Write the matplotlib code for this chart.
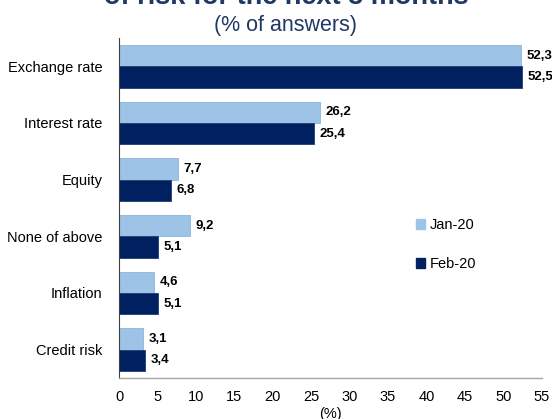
import matplotlib
matplotlib.use("Agg")
import matplotlib.pyplot as plt
from matplotlib.patches import Patch
import numpy as np

plt.rcParams['font.family'] = ['Liberation Sans', 'DejaVu Sans']

categories = ["Exchange rate", "Interest rate", "Equity", "None of above", "Inflation", "Credit risk"]
jan_20 = [52.3, 26.2, 7.7, 9.2, 4.6, 3.1]
feb_20 = [52.5, 25.4, 6.8, 5.1, 5.1, 3.4]
series_names = ["Jan-20", "Feb-20"]
x_ticks = list(range(0, 60, 5))

jan_color = "#9DC3E6"
feb_color = "#002060"
title_color = "#1F3864"

fig = plt.figure(figsize=(5.52, 4.19), dpi=100)
ax = fig.add_axes([0.2156, 0.0979, 0.7657, 0.8114])

y = np.arange(len(categories))
h = 0.375
ax.barh(y - h / 2, jan_20, height=h, color=jan_color, edgecolor="#8DB4DC", linewidth=0.6)
ax.barh(y + h / 2, feb_20, height=h, color=feb_color, edgecolor="#1F3C78", linewidth=0.6)

# data labels, comma as decimal sign
for yi, v in zip(y, jan_20):
    ax.text(v + 0.7, yi - h / 2, f"{v:.1f}".replace(".", ","), va="center", ha="left",
            fontsize=9.5, fontweight="bold", clip_on=False)
for yi, v in zip(y, feb_20):
    ax.text(v + 0.7, yi + h / 2, f"{v:.1f}".replace(".", ","), va="center", ha="left",
            fontsize=9.5, fontweight="bold", clip_on=False)

ax.set_ylim(len(categories) - 0.5, -0.5)
ax.set_xlim(0, 55)
ax.set_yticks(y)
ax.set_yticklabels(categories, fontsize=10.5)
ax.set_xticks(x_ticks)
ax.set_xticklabels([str(t) for t in x_ticks], fontsize=10.5)
ax.tick_params(axis="both", length=0)
ax.tick_params(axis="x", pad=9)
ax.tick_params(axis="y", pad=12)
ax.set_xlabel("(%)", fontsize=10.5, labelpad=2)

for s in ["top", "right"]:
    ax.spines[s].set_visible(False)
ax.spines["left"].set_color("#404040")
ax.spines["left"].set_linewidth(0.8)
ax.spines["bottom"].set_color("#A6A6A6")
ax.spines["bottom"].set_linewidth(1.0)

handles = [Patch(facecolor=jan_color, edgecolor=jan_color),
           Patch(facecolor=feb_color, edgecolor=feb_color)]
ax.legend(handles, series_names, loc="upper left", bbox_to_anchor=(0.69, 0.487),
          frameon=False, fontsize=10.5, handlelength=0.6, handleheight=0.6,
          handletextpad=0.3, labelspacing=1.7, borderaxespad=0)

fig.text(0.518, 0.991, "of risk for the next 3 months", ha="center", va="baseline",
         fontsize=19.5, fontweight="bold", color=title_color)
fig.text(0.518, 0.94, "(% of answers)", ha="center", va="center",
         fontsize=15.5, color=title_color)

fig.savefig("out.png", dpi=100)
